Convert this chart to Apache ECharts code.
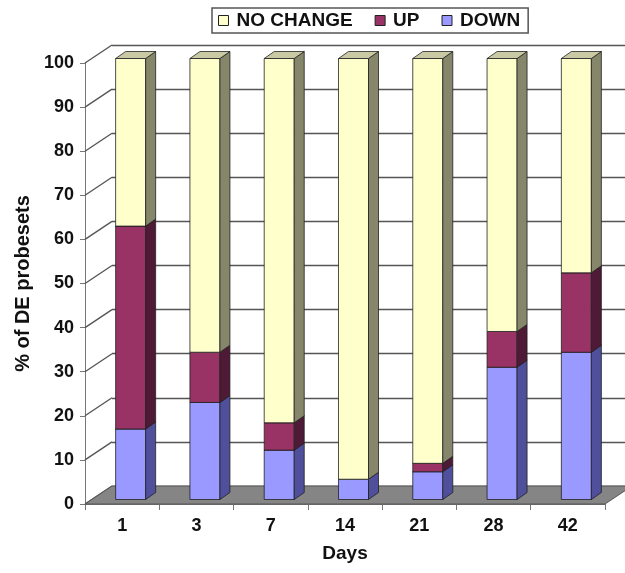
<!DOCTYPE html>
<html>
<head>
<meta charset="utf-8">
<script src="https://cdn.jsdelivr.net/npm/echarts@6/dist/echarts.min.js"></script>
<style>
html,body{margin:0;padding:0;background:#fff;}
#chart{width:625px;height:573px;}
</style>
</head>
<body>
<div id="chart"></div>
<script>
// ---- data ----
var days = ['1', '3', '7', '14', '21', '28', '42'];
var downVals = [16, 22, 11.2, 4.6, 6.3, 30, 33.4];
var upVals = [46, 11.4, 6.2, 0, 1.9, 8.1, 18];
var noChangeVals = [38, 66.6, 82.6, 95.4, 91.8, 61.9, 48.6];
var yTicks = [0, 10, 20, 30, 40, 50, 60, 70, 80, 90, 100];
var seriesNames = ['NO CHANGE', 'UP', 'DOWN'];

// ---- 3D look ----
var WALL_DX = 27, WALL_DY = -18;   // depth of the back wall
var BAR_OX = 8.5, BAR_OY = -4.5;   // bar front plane offset
var BAR_DX = 10, BAR_DY = -7;      // bar depth
var FONT = '"Liberation Sans", Arial, sans-serif';

function stackData(lowArr, valArr) {
  return days.map(function (d, i) {
    var lo = 0;
    for (var k = 0; k < lowArr.length; k++) lo += lowArr[k][i];
    return [i, lo, lo + valArr[i]];
  });
}

function barRender(front, side, top) {
  return function (params, api) {
    var i = api.value(0), lo = api.value(1), hi = api.value(2);
    if (!(hi - lo > 0)) return null;
    var c0 = api.coord([i, lo]);
    var c1 = api.coord([i, hi]);
    var bw = api.size([1, 0])[0] * 0.404;
    var xl = c0[0] + BAR_OX - bw / 2, xr = xl + bw;
    var yb = c0[1] + BAR_OY, yt = c1[1] + BAR_OY;
    var st = { stroke: '#222', lineWidth: 0.8 };
    return {
      type: 'group',
      children: [
        { type: 'polygon', shape: { points: [[xl, yb], [xr, yb], [xr, yt], [xl, yt]] },
          style: Object.assign({ fill: front }, st) },
        { type: 'polygon', shape: { points: [[xr, yb], [xr + BAR_DX, yb + BAR_DY], [xr + BAR_DX, yt + BAR_DY], [xr, yt]] },
          style: Object.assign({ fill: side }, st) },
        { type: 'polygon', shape: { points: [[xl, yt], [xr, yt], [xr + BAR_DX, yt + BAR_DY], [xl + BAR_DX, yt + BAR_DY]] },
          style: Object.assign({ fill: top }, st) }
      ]
    };
  };
}

var chart = echarts.init(document.getElementById('chart'), null, { renderer: 'canvas' });

var option = {
  backgroundColor: '#fff',
  animation: false,
  legend: {
    data: seriesNames,
    left: 212, top: 8,
    padding: [3, 8, 3, 6],
    itemWidth: 10, itemHeight: 10, itemGap: 22,
    icon: 'rect',
    borderColor: '#555', borderWidth: 1.5,
    itemStyle: { borderColor: '#222', borderWidth: 1 },
    textStyle: { fontFamily: FONT, fontWeight: 'bold', fontSize: 19, color: '#111', padding: [0, 0, 0, 3] }
  },
  grid: [
    { left: 85, top: 63, width: 520, height: 441 },
    { left: 85 + WALL_DX, top: 63 + WALL_DY, width: 520, height: 441 }
  ],
  xAxis: [
    {
      type: 'category', data: days, gridIndex: 0,
      axisLine: { lineStyle: { color: '#777', width: 1 } },
      axisTick: { show: true, length: 6, lineStyle: { color: '#777' } },
      axisLabel: { fontFamily: FONT, fontWeight: 'bold', fontSize: 18, color: '#111', margin: 13 },
      name: 'Days', nameLocation: 'middle', nameGap: 40,
      nameTextStyle: { fontFamily: FONT, fontWeight: 'bold', fontSize: 19, color: '#111' }
    },
    {
      type: 'category', data: days, gridIndex: 1, show: false
    }
  ],
  yAxis: [
    {
      type: 'value', gridIndex: 0, min: 0, max: 100, interval: 10,
      axisLine: { show: true, lineStyle: { color: '#777', width: 1 } },
      axisTick: { show: true, length: 5, lineStyle: { color: '#777' } },
      splitLine: { show: false },
      axisLabel: { fontFamily: FONT, fontWeight: 'bold', fontSize: 18, color: '#111', margin: 11 },
      name: '% of DE probesets', nameLocation: 'middle', nameGap: 50,
      nameTextStyle: { fontFamily: FONT, fontWeight: 'bold', fontSize: 20, color: '#111' }
    },
    {
      type: 'value', gridIndex: 1, min: 0, max: 100, interval: 10,
      axisLine: { show: false }, axisTick: { show: false }, axisLabel: { show: false },
      splitLine: { show: true, lineStyle: { color: '#555', width: 1.3 } }
    }
  ],
  series: [
    // left wall diagonals + floor
    {
      type: 'custom', name: 'walls', xAxisIndex: 0, yAxisIndex: 0, silent: true, z: 1,
      data: yTicks.map(function (v) { return [0, v]; }),
      renderItem: function (params, api) {
        var v = api.value(1);
        var cs = params.coordSys;
        var y = api.coord([0, v])[1];
        var children = [{
          type: 'line',
          shape: { x1: cs.x, y1: y, x2: cs.x + WALL_DX, y2: y + WALL_DY },
          style: { stroke: '#555', lineWidth: 1.3 }
        }];
        if (v === 0) {
          var yb = y;
          children.push({
            type: 'polygon',
            shape: { points: [[cs.x, yb], [cs.x + cs.width, yb], [cs.x + cs.width + WALL_DX, yb + WALL_DY], [cs.x + WALL_DX, yb + WALL_DY]] },
            style: { fill: '#858585', stroke: '#555', lineWidth: 1 }
          });
        }
        return { type: 'group', children: children };
      }
    },
    {
      type: 'custom', name: 'DOWN', xAxisIndex: 0, yAxisIndex: 0, z: 3,
      itemStyle: { color: '#9999FF', borderColor: '#222', borderWidth: 1 },
      encode: { x: 0, y: [1, 2] },
      data: stackData([], downVals),
      renderItem: barRender('#9999FF', '#4f4f9c', '#c0c0ff')
    },
    {
      type: 'custom', name: 'UP', xAxisIndex: 0, yAxisIndex: 0, z: 3,
      itemStyle: { color: '#993366', borderColor: '#222', borderWidth: 1 },
      encode: { x: 0, y: [1, 2] },
      data: stackData([downVals], upVals),
      renderItem: barRender('#993366', '#4e1a35', '#c46b93')
    },
    {
      type: 'custom', name: 'NO CHANGE', xAxisIndex: 0, yAxisIndex: 0, z: 3,
      itemStyle: { color: '#FFFFCC', borderColor: '#222', borderWidth: 1 },
      encode: { x: 0, y: [1, 2] },
      data: stackData([downVals, upVals], noChangeVals),
      renderItem: barRender('#FFFFCC', '#86866a', '#c9c9a3')
    }
  ]
};
chart.setOption(option);
</script>
</body>
</html>
